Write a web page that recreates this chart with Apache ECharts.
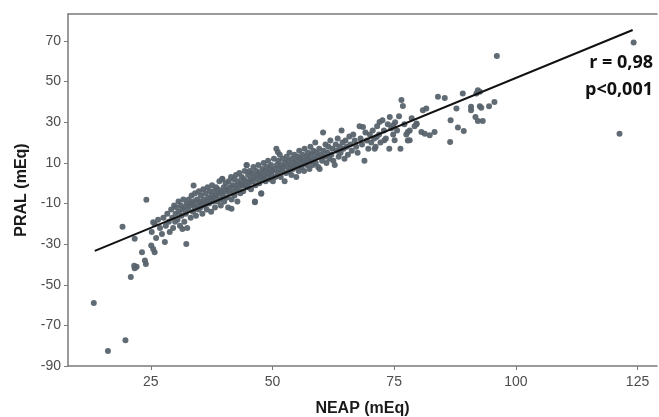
<!DOCTYPE html>
<html>
<head>
<meta charset="utf-8">
<script src="https://cdn.jsdelivr.net/npm/echarts@6/dist/echarts.min.js"></script>
<style>
  html, body {margin:0; padding:0; background:#fff;}
  #chart {width:659px; height:417px;}
</style>
</head>
<body>
<div id="chart"></div>
<script>
// NEAP vs PRAL, [NEAP, PRAL] pairs
const lowTail = [
    [13.3,-59],[16.2,-82.6],[19.8,-77.3],[20.9,-46.2],[19.2,-21.4],[24.1,-8.2],
    [21.6,-40.6],[22.1,-41.1],[21.7,-41.9],[23.8,-38.1],[24.0,-39.8],[23.2,-34],
    [25.5,-32.4],[25.8,-34],[25.1,-30.7],[32.3,-29.9],[21.7,-27.4],[25.5,-19.2],
    [33.8,-1.1],[31.5,-22.5],[46.4,-9.4],[47.7,-5.2],[44.7,8.8],[39.7,2.2],
    [41.6,-12.6],[51.1,15.3]
];
const band = [
    [25.2,-24],[25.8,-20],[26.1,-27],[26.5,-18],[26.9,-22],[27.3,-25],[27.6,-17],[27.9,-29],
    [28.1,-21],[28.4,-15],[28.7,-19],[28.9,-24],[29.2,-13],[29.4,-17],[29.6,-22],[29.8,-11],[30.0,-19],[30.1,-15],
    [30.3,-12],[30.5,-18],[30.7,-9],[30.8,-14],[31.0,-21],[31.2,-11],[31.3,-16],[31.5,-13],[31.7,-8],[31.9,-19],[32.0,-12],[32.2,-15],[32.4,-10],[32.5,-22],
    [32.7,-13],[32.8,-8],[33.0,-11],[33.2,-17],[33.4,-6],[33.5,-10],[33.7,-14],[33.8,-9],[34.0,-12],[34.1,-5],[34.3,-16],[34.5,-8],[34.6,-11],[34.8,-13],[34.9,-4],[35.0,-9],
    [35.2,-12],[35.3,-6],[35.5,-10],[35.6,-15],[35.8,-3],[35.9,-8],[36.1,-11],[36.2,-5],[36.4,-9],[36.5,-13],[36.7,-2],[36.8,-7],[37.0,-10],[37.1,-4],[37.3,-8],[37.4,-14],[37.5,-6],[37.6,-1],
    [37.8,-9],[37.9,-4],[38.1,-7],[38.2,-12],[38.4,-2],[38.5,-6],[38.7,-9],[38.8,-3],[39.0,-5],[39.1,1],[39.3,-8],[39.4,-11],[39.5,-4],[39.7,2],[39.8,-6],[40.0,-2],[40.1,-9],[40.3,-4],[40.4,0],[40.6,-7],
    [40.7,-3],[40.9,-12],[41.0,1],[41.2,-5],[41.3,-2],[41.5,3],[41.6,-8],[41.8,-1],[41.9,-4],[42.1,2],[42.2,-6],[42.4,-1],[42.5,4],[42.6,-3],[42.8,-9],[42.9,1],[43.1,-2],[43.2,5],[43.4,-5],[43.5,0],[43.7,3],[43.8,-1],
    [44.0,-4],[44.1,2],[44.3,6],[44.4,-1],[44.6,1],[44.7,9],[44.9,-2],[45.0,4],
    [45.2,0],[45.3,6],[45.5,2],[45.6,-3],[45.8,5],[45.9,1],[46.1,8],[46.2,3],[46.4,-9],[46.5,-1],[46.7,6],[46.8,2],[47.0,4],[47.1,9],[47.3,0],[47.4,5],[47.6,3],[47.7,-5],[47.9,7],[48.0,2],[48.2,10],[48.3,4],
    [48.5,6],[48.6,1],[48.8,8],[48.9,3],[49.1,11],[49.2,5],[49.4,7],[49.5,2],[49.7,9],[49.8,4],[50.0,6],[50.1,1],[50.3,12],[50.4,7],[50.6,3],
    [50.8,17],[50.9,9],[51.1,5],[51.2,11],[51.4,7],[51.5,14],[51.7,3],[51.8,9],[52.0,6],[52.1,12],[52.3,8],[52.5,1],[52.6,10],[52.8,5],[52.9,13],[53.1,8],[53.2,11],[53.4,6],[53.5,15],[53.7,9],
    [53.9,4],[54.0,12],[54.2,7],[54.3,10],[54.5,14],[54.6,8],[54.8,11],[54.9,3],[55.1,9],[55.2,13],[55.4,6],[55.5,16],[55.7,10],[55.8,12],[56.0,8],[56.2,14],[56.3,11],[56.5,6],[56.6,17],[56.8,10],
    [57.0,13],[57.1,9],[57.3,15],[57.4,12],[57.6,7],[57.8,18],[57.9,11],[58.1,14],[58.3,9],[58.4,16],[58.6,12],[58.8,20],[58.9,10],[59.1,15],[59.3,13],[59.4,8],[59.6,17],[59.7,7],
    [60.0,14],[60.2,11],[60.4,25],[60.5,16],[60.7,13],[60.9,19],[61.1,10],[61.3,15],[61.5,18],[61.7,12],[61.9,21],[62.1,14],[62.3,17],[62.5,11],[62.8,9],[63.0,19],
    [63.2,16],[63.4,22],[63.6,13],[63.8,18],[64.0,15],[64.2,26],[64.4,20],[64.6,17],[64.8,12],[65.0,21],[65.3,18],[65.5,14],[65.8,23],[66.0,19],
    [66.3,16],[66.6,24],[66.9,21],[67.2,18],[67.5,15],[67.9,28],[68.1,22],[68.4,19],[68.9,11],[69.1,25],[69.4,21],[69.7,17],[70.0,24],[70.3,20],
    [68.6,27.7],[72.0,30.1],[74.1,32.6],[74.8,28.5],[71.4,22.7],[71.0,17],[73.0,21.1],[75.1,21.1],
    [70.6,26],[70.9,22],[71.2,18],[71.5,28],[71.9,24],[72.2,20],[72.6,31],[72.9,26],[73.3,22],[73.7,29],[74.0,17],[74.4,27],[74.8,24],[75.2,30],
    [75.6,26],[76.0,33],[76.3,17],[76.5,41],[76.8,38],[77.1,29],[77.5,24],[77.8,21],[78.2,26],[78.6,32],[79.2,28],[79.6,29]
];
const highTail = [
    [84.0,42.5],[85.4,42],[89.1,44.2],[92.2,45.8],[92.6,45],[91.9,44.2],[87.8,36.8],[90.8,37.6],
    [90.8,35.9],[92.6,37.9],[92.9,37.2],[94.5,37.9],[95.6,40],[86.6,31],[91.7,32.6],[92.2,30.6],
    [93.2,30.6],[88.1,27.4],[89.3,25.7],[86.5,20.3],[80.6,25.2],[81.3,24.4],[82.3,23.6],[83.3,25.2],
    [80.9,35.9],[81.6,36.8],[77.8,25.2],[78.2,21.1],[79.6,29.4],[96.1,62.6],[121.3,24.4],[124.2,69.3]
];
// fitted line ends
const fitLine = [[13.5,-33.3],[124.0,75.4]];
const xTicks = [25, 50, 75, 100, 125];
const yTicks = [-90, -70, -50, -30, -10, 10, 30, 50, 70];
const statText = ['r = 0,98', 'p<0,001'];

const chart = echarts.init(document.getElementById('chart'), null, {renderer: 'canvas'});

const axisGray = '#7a7a7a';
const labelStyle = {color: '#4d4d4d', fontSize: 14, fontFamily: 'Liberation Sans, Arial, sans-serif'};
const nameStyle = {color: '#1a1a1a', fontSize: 16, fontWeight: 'bold', fontFamily: 'Liberation Sans, Arial, sans-serif'};

let option = {
    animation: false,
    backgroundColor: '#fff',
    grid: {left: 68, right: 2, top: 14, bottom: 51, outerBoundsMode: 'none', containLabel: false},
    xAxis: [
        {
            type: 'value',
            min: 8,
            max: 129,
            name: 'NEAP (mEq)',
            nameLocation: 'middle',
            nameGap: 35,
            nameTextStyle: nameStyle,
            axisLine: {show: true, onZero: false, lineStyle: {color: axisGray, width: 1.5}},
            axisTick: {show: true, length: 4, customValues: xTicks, lineStyle: {color: axisGray}},
            axisLabel: Object.assign({customValues: xTicks, margin: 9}, labelStyle),
            splitLine: {show: false}
        },
        {
            type: 'value',
            position: 'top',
            min: 8,
            max: 129,
            axisLine: {show: true, onZero: false, lineStyle: {color: axisGray, width: 1.5}},
            axisTick: {show: false},
            axisLabel: {show: false},
            splitLine: {show: false}
        }
    ],
    yAxis: {
        type: 'value',
        min: -90,
        max: 83.3,
        name: 'PRAL (mEq)',
        nameLocation: 'middle',
        nameGap: 35,
        nameTextStyle: nameStyle,
        axisLine: {show: true, onZero: false, lineStyle: {color: axisGray, width: 1.5}},
        axisTick: {show: true, length: 4, customValues: yTicks, lineStyle: {color: axisGray}},
        axisLabel: Object.assign({customValues: yTicks, margin: 7}, labelStyle),
        splitLine: {show: false}
    },
    series: [
        {
            type: 'scatter',
            data: lowTail.concat(band, highTail),
            symbolSize: 6,
            itemStyle: {color: '#59636d', opacity: 0.95}
        },
        {
            type: 'line',
            data: fitLine,
            symbol: 'none',
            lineStyle: {color: '#111', width: 2},
            z: 3
        }
    ],
    graphic: statText.map((t, i) => ({
        type: 'text',
        right: 6,
        top: 54 + i * 27,
        style: {
            text: t,
            fill: '#111',
            font: 'bold 18px "Open Sans", "Noto Sans", sans-serif',
            textAlign: 'right'
        }
    }))
};
chart.setOption(option);
</script>
</body>
</html>
